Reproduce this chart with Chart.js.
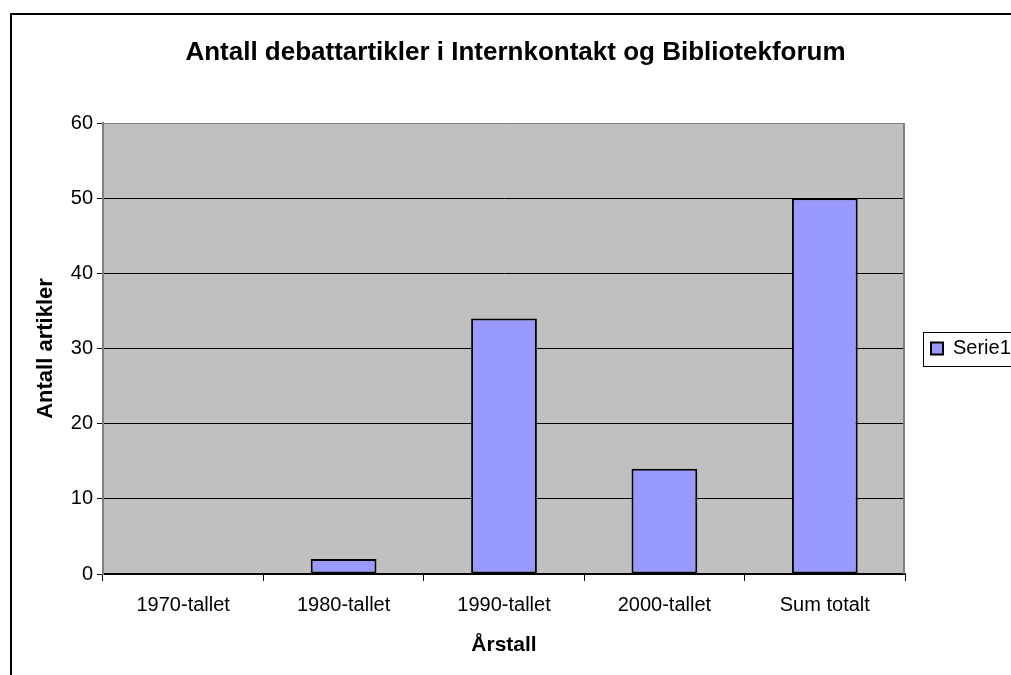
<!doctype html>
<html lang="no">
<head>
<meta charset="utf-8">
<title>Antall debattartikler i Internkontakt og Bibliotekforum</title>
<style>
  html, body { margin: 0; padding: 0; background: #fff; overflow: hidden; }
  #wrap { position: relative; width: 1011px; height: 675px; }
</style>
</head>
<body>
<div id="wrap"><canvas id="chart" width="1011" height="675"></canvas></div>

<script src="https://cdn.jsdelivr.net/npm/chart.js"></script>
<script>
  const categories = ['1970-tallet', '1980-tallet', '1990-tallet', '2000-tallet', 'Sum totalt']
  const serie1 = [0, 2, 34, 14, 50]
  const yTicks = [0, 10, 20, 30, 40, 50, 60]

  const FONT = "'Liberation Sans', Arial, Helvetica, sans-serif"

  // grey plot area + white page
  const backdrop = {
    id: 'backdrop',
    beforeDraw(chart) {
      const { ctx, chartArea: a } = chart
      ctx.save()
      ctx.fillStyle = '#fff'
      ctx.fillRect(0, 0, chart.width, chart.height)
      ctx.fillStyle = '#C0C0C0'
      ctx.fillRect(a.left, a.top, a.right - a.left, a.bottom - a.top)
      ctx.restore()
    },
    afterDraw(chart) {
      const { ctx, chartArea: a } = chart
      ctx.save()
      // right edge of the plot
      ctx.strokeStyle = '#808080'
      ctx.lineWidth = 2
      ctx.beginPath()
      ctx.moveTo(a.right - 1, a.top)
      ctx.lineTo(a.right - 1, a.bottom)
      ctx.stroke()
      // outer chart frame
      ctx.strokeStyle = '#000'
      ctx.lineWidth = 2
      ctx.strokeRect(11, 14, chart.width + 20, chart.height + 20)
      // legend frame
      const lg = chart.legend
      if (lg && lg.legendHitBoxes && lg.legendHitBoxes.length) {
        const hb = lg.legendHitBoxes[0]
        const cy = hb.top + hb.height / 2
        ctx.lineWidth = 1
        ctx.strokeStyle = '#000'
        ctx.strokeRect(lg.left + 18.5, Math.round(cy - 17) + 0.5, 200, 34)
      }
      ctx.restore()
    }
  }

  // fixed legend width so the plot ends where the original does
  const legendWidth = {
    id: 'legendWidth',
    afterInit(chart) {
      const lg = chart.legend
      const fit = lg.fit.bind(lg)
      lg.fit = function () {
        fit()
        this.width = 106
      }
    }
  }

  new Chart(document.getElementById('chart'), {
    type: 'bar',
    data: {
      labels: categories,
      datasets: [{
        label: 'Serie1',
        data: serie1,
        backgroundColor: '#9999FF',
        borderColor: '#000',
        borderWidth: 2,
        borderSkipped: false,
        categoryPercentage: 1,
        barPercentage: 0.41
      }]
    },
    options: {
      responsive: false,
      animation: false,
      devicePixelRatio: 1,
      layout: { padding: { left: 20, right: 0, top: 0, bottom: 0 } },
      plugins: {
        title: {
          display: true,
          text: 'Antall debattartikler i Internkontakt og Bibliotekforum',
          color: '#000',
          font: { family: FONT, size: 26, weight: 'bold' },
          padding: { top: 37, bottom: 54.8 }
        },
        legend: {
          position: 'right',
          fullSize: false,
          labels: {
            color: '#000',
            font: { family: FONT, size: 20 },
            boxWidth: 12,
            boxHeight: 12,
            padding: 26,
            useBorderRadius: false
          }
        },
        tooltip: { enabled: false }
      },
      scales: {
        x: {
          afterFit(scale) { scale.height = 101 },
          grid: {
            offset: true,
            drawOnChartArea: false,
            tickLength: 7,
            tickColor: '#000',
            color: '#000'
          },
          border: { color: '#000', width: 2 },
          ticks: {
            color: '#000',
            padding: 12,
            maxRotation: 0,
            font: { family: FONT, size: 20 }
          },
          title: {
            display: true,
            text: 'Årstall',
            color: '#000',
            font: { family: FONT, size: 21, weight: 'bold' },
            padding: { top: 0, bottom: 17 }
          }
        },
        y: {
          min: 0,
          max: 60,
          afterFit(scale) { scale.width = 83 },
          afterBuildTicks(scale) { scale.ticks = yTicks.map(v => ({ value: v })) },
          grid: {
            color: ctx => (ctx.tick && ctx.tick.value === 60 ? '#808080' : '#000'),
            lineWidth: 1,
            tickLength: 6,
            tickColor: '#000'
          },
          border: { color: '#808080', width: 2 },
          ticks: {
            color: '#000',
            padding: 4,
            font: { family: FONT, size: 20 }
          },
          title: {
            display: true,
            text: 'Antall artikler',
            color: '#000',
            font: { family: FONT, size: 22, weight: 'bold' },
            padding: { top: 13, bottom: 0 }
          }
        }
      }
    },
    plugins: [backdrop, legendWidth]
  })
</script>
</body>
</html>
